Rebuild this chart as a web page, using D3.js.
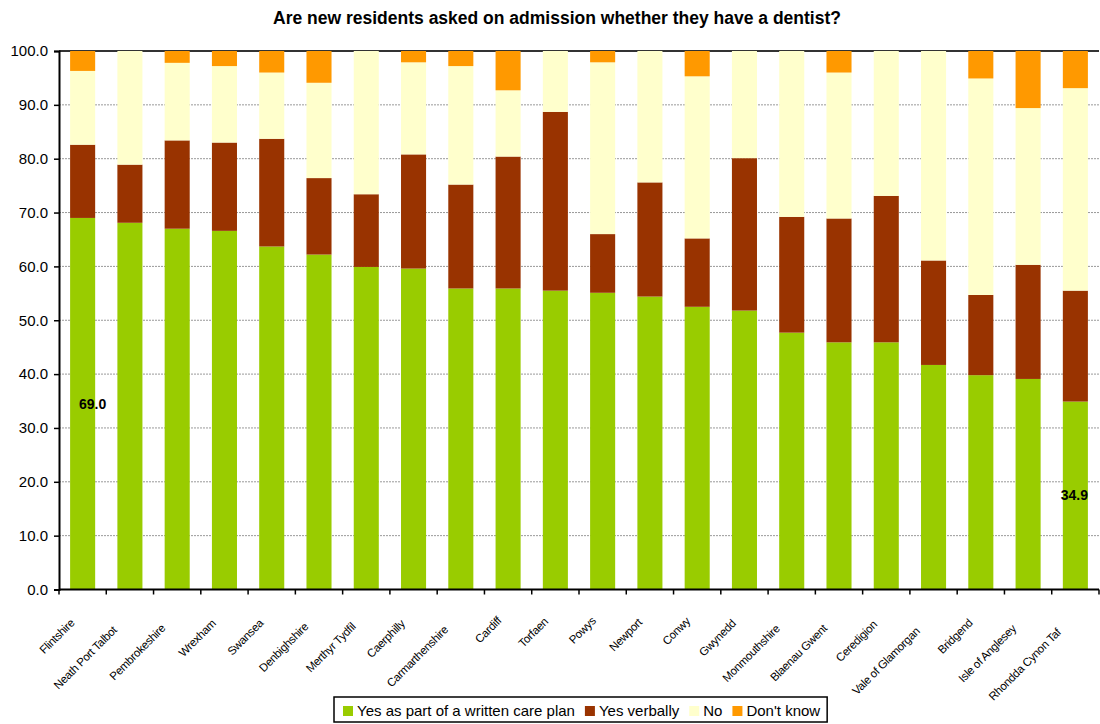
<!DOCTYPE html>
<html>
<head>
<meta charset="utf-8">
<script src="https://cdn.jsdelivr.net/npm/d3@7"></script>
<style>
  html, body { margin: 0; padding: 0; background: #fff; }
  svg { display: block; font-family: Arial, "Liberation Sans", sans-serif; }
</style>
</head>
<body>
<svg id="chart" width="1100" height="724"></svg>
<script>
// ---- data ----
const title = "Are new residents asked on admission whether they have a dentist?";
const categories = ["Flintshire", "Neath Port Talbot", "Pembrokeshire", "Wrexham", "Swansea",
  "Denbighshire", "Merthyr Tydfil", "Caerphilly", "Carmarthenshire", "Cardiff", "Torfaen",
  "Powys", "Newport", "Conwy", "Gwynedd", "Monmouthshire", "Blaenau Gwent", "Ceredigion",
  "Vale of Glamorgan", "Bridgend", "Isle of Anglesey", "Rhondda Cynon Taf"];
const seriesNames = ["Yes as part of a written care plan", "Yes verbally", "No", "Don't know"];
const yesWritten = [69.0, 68.1, 67.0, 66.6, 63.7, 62.2, 59.9, 59.6, 55.9, 55.9, 55.5,
  55.1, 54.4, 52.5, 51.8, 47.7, 45.9, 45.9, 41.7, 39.8, 39.1, 34.9];
const yesVerbal = [13.6, 10.8, 16.4, 16.4, 20.0, 14.2, 13.5, 21.2, 19.3, 24.5, 33.2,
  10.9, 21.2, 12.7, 28.3, 21.5, 23.0, 27.2, 19.4, 14.9, 21.2, 20.6];
const noValues = [13.7, 21.1, 14.4, 14.2, 12.3, 17.7, 26.6, 17.1, 22.0, 12.3, 11.3,
  31.9, 24.4, 30.1, 19.9, 30.8, 27.1, 26.9, 38.9, 40.2, 29.1, 37.6];
const dontKnow = [3.7, 0, 2.2, 2.8, 4.0, 5.9, 0, 2.1, 2.8, 7.3, 0,
  2.1, 0, 4.7, 0, 0, 4.0, 0, 0, 5.1, 10.6, 6.9];
const yTicks = [0, 10, 20, 30, 40, 50, 60, 70, 80, 90, 100];
const labelledIndex = [0, 21];   // bars carrying a data label (first and last)
const colors = ["#99CC00", "#993300", "#FFFFCC", "#FF9900"];

// table for the stack
const seriesArrays = [yesWritten, yesVerbal, noValues, dontKnow];
const table = categories.map((c, i) => {
  const row = { category: c };
  seriesNames.forEach((s, k) => row[s] = seriesArrays[k][i]);
  return row;
});

// ---- layout ----
const svg = d3.select("#chart");
const plot = { left: 59, right: 1099, top: 51, bottom: 589.5 };

const x = d3.scaleBand().domain(categories).range([plot.left, plot.right])
  .paddingInner(0.47).paddingOuter(0.235);
const y = d3.scaleLinear().domain([0, 100]).range([plot.bottom, plot.top]);
const color = d3.scaleOrdinal().domain(seriesNames).range(colors);

// title
svg.append("text")
  .attr("x", 557).attr("y", 24)
  .attr("text-anchor", "middle")
  .style("font-size", "17.5px").style("font-weight", "bold")
  .text(title);

// gridlines
svg.append("g").selectAll("line")
  .data(yTicks.filter(t => t > 0))
  .join("line")
  .attr("x1", plot.left).attr("x2", plot.right)
  .attr("y1", d => y(d)).attr("y2", d => y(d))
  .attr("stroke", d => d === 100 ? "#333" : "#999")
  .attr("stroke-width", d => d === 100 ? 2 : 1)
  .attr("stroke-dasharray", d => d === 100 ? null : "2,1");

// stacked bars
const stacked = d3.stack().keys(seriesNames)(table);
svg.append("g").selectAll("g")
  .data(stacked)
  .join("g")
  .attr("fill", d => color(d.key))
  .selectAll("rect")
  .data(d => d)
  .join("rect")
  .attr("x", d => x(d.data.category))
  .attr("width", x.bandwidth())
  .attr("y", d => y(d[1]))
  .attr("height", d => Math.max(0, y(d[0]) - y(d[1])));

// data labels
const labelDx = [10, -1];
svg.append("g").selectAll("text")
  .data(labelledIndex)
  .join("text")
  .attr("x", (d, k) => x(categories[d]) + x.bandwidth() / 2 + labelDx[k])
  .attr("y", d => y(yesWritten[d] / 2))
  .attr("dy", "0.35em")
  .attr("text-anchor", "middle")
  .style("font-size", "14px").style("font-weight", "bold")
  .text(d => d3.format(".1f")(yesWritten[d]));

// y axis
const yAxis = svg.append("g")
  .attr("transform", `translate(${plot.left},0)`)
  .call(d3.axisLeft(y).tickValues(yTicks).tickFormat(d3.format(".1f")).tickSize(5).tickPadding(6));
yAxis.select(".domain").attr("stroke", "#000").attr("stroke-width", 2);
yAxis.selectAll(".tick line").attr("stroke", "#000").attr("stroke-width", 1.5);
yAxis.selectAll(".tick text").style("font-size", "15px").style("font-family", "Arial, 'Liberation Sans', sans-serif").attr("fill", "#000");

// x axis line and ticks at category boundaries
const step = x.step();
svg.append("line")
  .attr("x1", plot.left).attr("x2", plot.right)
  .attr("y1", plot.bottom).attr("y2", plot.bottom)
  .attr("stroke", "#000").attr("stroke-width", 2);
svg.append("g").selectAll("line")
  .data(d3.range(categories.length + 1))
  .join("line")
  .attr("x1", i => plot.left + i * step).attr("x2", i => plot.left + i * step)
  .attr("y1", plot.bottom).attr("y2", plot.bottom + 5)
  .attr("stroke", "#000").attr("stroke-width", 1.5);

// x labels rotated -45
const xl = svg.append("g").selectAll("text")
  .data(categories)
  .join("text")
  .attr("text-anchor", "end")
  .style("font-size", "11.5px")
  .style("letter-spacing", "-0.3px")
  .text(d => d);
xl.each(function (d) {
  const L = this.getComputedTextLength();
  const cx = x(d) + x.bandwidth() / 2;
  const ex = cx - 7 - 0.12 * (L - 40);
  const ey = 623 + 0.18 * (L - 40);
  d3.select(this).attr("transform", `translate(${ex},${ey}) rotate(-45)`);
});

// legend
const legend = svg.append("g");
const legendBox = legend.append("rect")
  .attr("fill", "#fff").attr("stroke", "#000").attr("stroke-width", 1.5);
let lx = 0;
seriesNames.forEach((s, k) => {
  const g = legend.append("g").attr("transform", `translate(${lx},0)`);
  g.append("rect").attr("x", 0).attr("y", -10).attr("width", 10).attr("height", 10)
    .attr("fill", color(s));
  const t = g.append("text").attr("x", 14).attr("y", 0)
    .style("font-size", "15px").text(s);
  lx += 14 + t.node().getComputedTextLength() + 10;
});
const legendWidth = lx - 10;
const legendLeft = 343;
legend.attr("transform", `translate(${legendLeft},716)`);
legendBox.attr("x", -9).attr("y", -19).attr("width", legendWidth + 16).attr("height", 25);
</script>
</body>
</html>
